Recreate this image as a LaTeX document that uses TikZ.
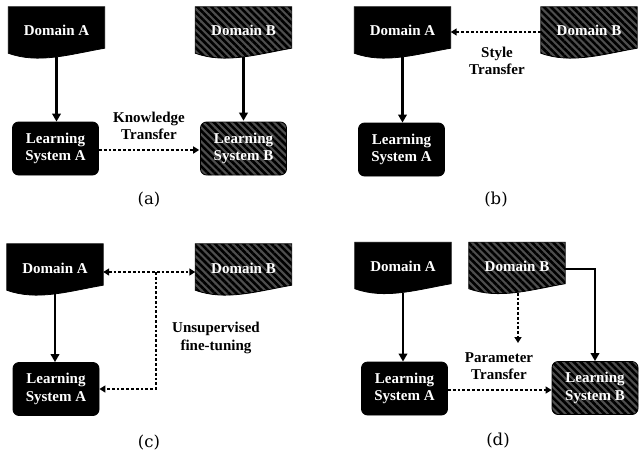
\documentclass[tikz,border=0pt]{standalone}
\usepackage{fontspec}
\newfontfamily\boxfont{Liberation Serif}
\newfontfamily\panelfont{DejaVu Serif}
\usetikzlibrary{arrows.meta,patterns.meta,backgrounds,calc}
\definecolor{hatchgray}{HTML}{4E4E4E}

% wavy-bottomed document outline around a named node
\newcommand\waveddoc[2]{%
  \path[#2, draw=black, line width=0.8pt]
    ($(#1.south west)+(0,-4)$) |- (#1.north east)
    -- ($(#1.south east)+(0,-9)$)
    .. controls ($(#1.south west)+(62,-3)$) and ($(#1.south west)+(30,7)$) ..
    ($(#1.south west)+(0,-4)$) -- cycle;}

\tikzset{
  boxtext/.style={text=white, font=\boxfont\bfseries\fontsize{15}{17.5}\selectfont, align=center},
  docnode/.style={boxtext, minimum width=96pt, minimum height=50pt, inner sep=0pt},
  sysbox/.style={boxtext, draw=black, line width=0.8pt, rounded corners=6pt,
    minimum width=86pt, minimum height=53pt, inner sep=0pt},
  darkfill/.style={fill=black},
  hatched/.style={preaction={fill=hatchgray},
    pattern={Lines[angle=-45,distance=5pt,line width=2.6pt]}, pattern color=black},
  sysA/.style={sysbox, darkfill},
  sysB/.style={sysbox, hatched},
  link/.style={line width=2.5pt, -{Triangle[length=8pt,width=8.5pt]}},
  dottip/.tip={Triangle[length=6pt,width=7pt]},
  dots/.style={line width=2.8pt, dash pattern=on 2.8pt off 2pt, -{dottip}},
  caption/.style={font=\boxfont\bfseries\fontsize{15}{17.5}\selectfont, align=center},
  panel/.style={font=\panelfont\fontsize{16.5}{19}\selectfont}
}

\begin{document}
\begin{tikzpicture}[x=1pt, y=-1pt]
\useasboundingbox (0,0) rectangle (640,453);

% ---------- (a) knowledge transfer ----------
\node[docnode] (dA1) at (56.5,32) {\raisebox{2.5pt}{Domain A}};
\node[docnode] (dB1) at (243.5,32) {\raisebox{2.5pt}{Domain B}};
\node[sysA] (lA1) at (55.5,148.5) {Learning\\System A};
\node[sysB] (lB1) at (243.5,148.5) {Learning\\System B};
\draw[link] (dA1.south) -- (dA1.south |- lA1.north);
\draw[link] (dB1.south) -- (dB1.south |- lB1.north);
\draw[dots] ($(lA1.east)+(0,1.5)$) -- ($(lB1.west)+(0,1.5)$);
\node[caption] (kt) at (149,126) {Knowledge\\Transfer};
\node[panel] (pa) at (149,200) {(a)};

% ---------- (b) style transfer ----------
\node[docnode] (dA2) at (402.5,32) {\raisebox{2.5pt}{Domain A}};
\node[docnode] (dB2) at (589,32) {\raisebox{2.5pt}{Domain B}};
\node[sysA] (lA2) at (401.5,149.5) {Learning\\System A};
\draw[link] (dA2.south) -- (dA2.south |- lA2.north);
\draw[dots] (dB2.west) -- (dA2.east);
\node[caption] (st) at (497,61) {Style\\Transfer};
\node[panel] (pb) at (496,200) {(b)};

% ---------- (c) unsupervised fine-tuning ----------
\node[docnode] (dA3) at (55,269) {\raisebox{1pt}{Domain A}};
\node[docnode] (dB3) at (243.5,269) {\raisebox{1pt}{Domain B}};
\node[sysA] (lA3) at (56,389) {Learning\\System A};
\draw[link] (dA3.south) -- (dA3.south |- lA3.north);
\draw[dots, {dottip}-{dottip}]
  ($(dA3.east)+(0,3)$) -- ($(dB3.west)+(0,3)$);
\coordinate (j3) at (156,272);
\draw[dots] (j3) |- (lA3.east);
\node[caption] (uf) at (216,338) {Unsupervised\\fine-tuning};
\node[panel] (pc) at (149,443) {(c)};

% ---------- (d) parameter transfer ----------
\node[docnode] (dA4) at (403,267.5) {\raisebox{2pt}{Domain A}};
\node[docnode] (dB4) at (517,267.5) {\raisebox{2pt}{Domain B}};
\node[sysA] (lA4) at (404.5,388.5) {Learning\\System A};
\node[sysB] (lB4) at (595,388) {Learning\\System B};
\draw[link] (dA4.south) -- (dA4.south |- lA4.north);
\draw[link] ($(dB4.east)+(0,1.5)$) -| (lB4.north);
\coordinate (p4) at (518,343);
\draw[dots] (dB4.south -| p4) -- (p4);
\draw[dots] ($(lA4.east)+(0,1.5)$) -- ($(lB4.west)+(0,2)$);
\node[caption] (pt) at (499,366) {Parameter\\Transfer};
\node[panel] (pd) at (498,441) {(d)};

% document outlines behind their labels
\begin{scope}[on background layer]
  \waveddoc{dA1}{darkfill}
  \waveddoc{dB1}{hatched}
  \waveddoc{dA2}{darkfill}
  \waveddoc{dB2}{hatched}
  \waveddoc{dA3}{darkfill}
  \waveddoc{dB3}{hatched}
  \waveddoc{dA4}{darkfill}
  \waveddoc{dB4}{hatched}
\end{scope}
\end{tikzpicture}
\end{document}
